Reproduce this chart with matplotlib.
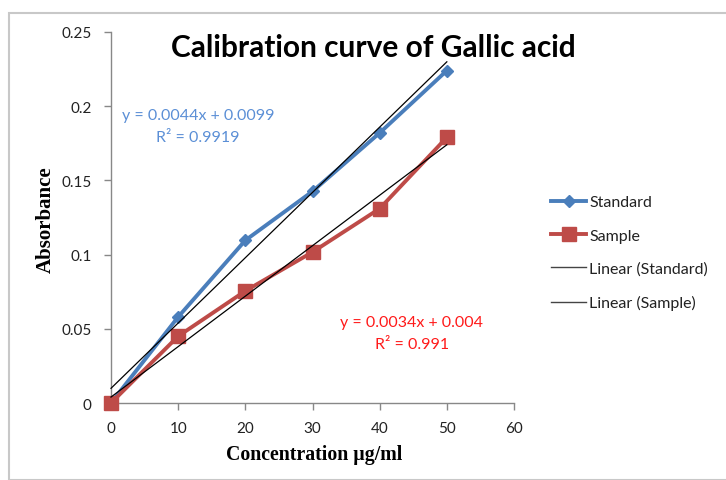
import matplotlib
matplotlib.use("Agg")
import matplotlib.pyplot as plt
from matplotlib.lines import Line2D
from matplotlib.patches import Rectangle
import numpy as np

conc = [0, 10, 20, 30, 40, 50]
standard = [0.0, 0.058, 0.1096, 0.1426, 0.182, 0.224]
sample = [0.0, 0.045, 0.0755, 0.1017, 0.131, 0.179]
fit_std = (0.0044, 0.0099)
fit_smp = (0.0034, 0.004)
eq_std = ["y = 0.0044x + 0.0099", "R² = 0.9919"]
eq_smp = ["y = 0.0034x + 0.004", "R² = 0.991"]
xticks = [0, 10, 20, 30, 40, 50, 60]
yticks = [0, 0.05, 0.1, 0.15, 0.2, 0.25]
ytick_labels = ["0", "0.05", "0.1", "0.15", "0.2", "0.25"]

W, H = 726, 481
fig = plt.figure(figsize=(W / 100, H / 100), dpi=100)
fig.patch.set_facecolor("white")
fig.patches.append(Rectangle((9 / W, 0), 1.2, 1 - 14 / H, transform=fig.transFigure,
                             fill=False, edgecolor="#c8c8c8", linewidth=1.5))

ax = fig.add_axes([111 / W, 1 - 404 / H, (514 - 111) / W, (404 - 33) / H])
sans = ["Lato", "DejaVu Sans"]
blue = "#4A7EBB"
red = "#BE4B48"

xs = np.array([conc[0], conc[-1]])
ax.plot(conc, standard, color=blue, lw=2.8, marker="D", ms=6.5, mfc=blue, mec=blue, zorder=3)
ax.plot(conc, sample, color=red, lw=2.8, marker="s", ms=9.5, mfc=red, mec=red, zorder=4)
ax.plot(xs, fit_std[0] * xs + fit_std[1], color="black", lw=0.9, zorder=5)
ax.plot(xs, fit_smp[0] * xs + fit_smp[1], color="black", lw=0.9, zorder=5)

ax.set_xlim(0, 60)
ax.set_ylim(0, 0.25)
ax.set_xticks(xticks)
ax.set_xticklabels([str(v) for v in xticks], fontfamily=sans, fontsize=11)
ax.set_yticks(yticks)
ax.set_yticklabels(ytick_labels, fontfamily=sans, fontsize=11)
for s in ["top", "right"]:
    ax.spines[s].set_visible(False)
for s in ["left", "bottom"]:
    ax.spines[s].set_color("#888888")
    ax.spines[s].set_linewidth(1)
ax.tick_params(axis="both", direction="out", length=5, color="#888888", width=1,
               labelcolor="#222222")
ax.tick_params(axis="x", pad=8)
ax.tick_params(axis="y", pad=9)
for ln in ax.lines:
    ln.set_clip_on(False)

fig.text(373 / W, 1 - 48 / H, "Calibration curve of Gallic acid", ha="center", va="center",
         fontsize=21.5, fontweight="bold", family=sans)
fig.text(46 / W, 1 - 220 / H, "Absorbance", rotation=90, ha="center", va="center",
         fontsize=15, fontweight="bold", family="Liberation Serif")
fig.text(314 / W, 1 - 455 / H, "Concentration µg/ml", ha="center", va="center",
         fontsize=14.3, fontweight="bold", family="Liberation Serif")

fig.text(198 / W, 1 - 116 / H, eq_std[0], ha="center", va="center", fontsize=11.5,
         color="#5B8FD6", family=sans)
fig.text(198 / W, 1 - 138 / H, eq_std[1], ha="center", va="center", fontsize=11.5,
         color="#5B8FD6", family=sans)
fig.text(412 / W, 1 - 323 / H, eq_smp[0], ha="center", va="center", fontsize=11.5,
         color="#FF1A1A", family=sans)
fig.text(412 / W, 1 - 345 / H, eq_smp[1], ha="center", va="center", fontsize=11.5,
         color="#FF1A1A", family=sans)

handles = [
    Line2D([], [], color=blue, lw=2.8, marker="D", ms=6.5),
    Line2D([], [], color=red, lw=2.8, marker="s", ms=9.5),
    Line2D([], [], color="#444444", lw=1),
    Line2D([], [], color="#444444", lw=1),
]
labels = ["Standard", "Sample", "Linear (Standard)", "Linear (Sample)"]
leg = fig.legend(handles, labels, loc="upper left", bbox_to_anchor=(551 / W, 1 - 196 / H),
                 frameon=False, prop={"family": sans, "size": 11.5}, handlelength=2.2,
                 handletextpad=0.2, labelspacing=1.2, borderaxespad=0, borderpad=0)
for t in leg.get_texts():
    t.set_color("#222222")

fig.savefig("out.png", dpi=100)
